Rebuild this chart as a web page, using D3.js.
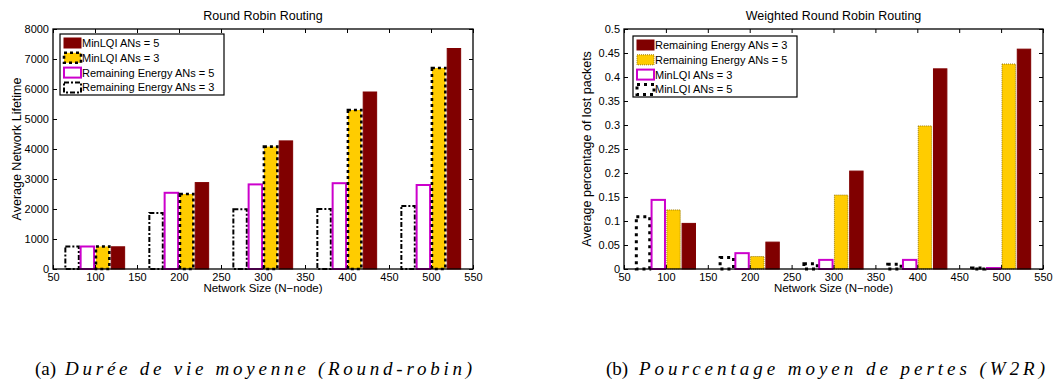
<!DOCTYPE html>
<html><head><meta charset="utf-8">
<script src="https://cdn.jsdelivr.net/npm/d3@7/dist/d3.min.js"></script>
<style>body{margin:0;background:#fff;} svg{display:block;} text{font-family:"Liberation Sans",Arial,sans-serif;}</style>
</head><body><svg id="c" width="1054" height="383"></svg>
<script>
// ---- data ----
const networkSizes = [100, 200, 300, 400, 500];
const xTicks = [50, 100, 150, 200, 250, 300, 350, 400, 450, 500, 550];

// Round Robin Routing: average network lifetime
const rrRemEnergy3 = [750, 1870, 1990, 2000, 2100];
const rrRemEnergy5 = [750, 2540, 2820, 2860, 2800];
const rrMinLQI3    = [750, 2500, 4080, 5300, 6700];
const rrMinLQI5    = [740, 2880, 4270, 5900, 7350];
const rrYTicks = [0, 1000, 2000, 3000, 4000, 5000, 6000, 7000, 8000];

// Weighted Round Robin Routing: average percentage of lost packets
const wrrMinLQI5    = [0.109, 0.024, 0.011, 0.010, 0.002];
const wrrMinLQI3    = [0.144, 0.033, 0.019, 0.019, 0.002];
const wrrRemEnergy5 = [0.123, 0.026, 0.154, 0.298, 0.427];
const wrrRemEnergy3 = [0.095, 0.056, 0.204, 0.417, 0.458];
const wrrYTicks = [0, 0.05, 0.1, 0.15, 0.2, 0.25, 0.3, 0.35, 0.4, 0.45, 0.5];

// ---- styles ----
const DARKRED = "#800000", GOLD = "#ffcc00", MAGENTA = "#cc00cc";
const styles = {
  dashdot:  {fill: "#fff", stroke: "#000", sw: 2, dash: "5,2,2,2"},
  magenta:  {fill: "#fff", stroke: MAGENTA, sw: 2, dash: null},
  golddots: {fill: GOLD, stroke: "#000", sw: 2.6, dash: "3,3"},
  goldthin: {fill: GOLD, stroke: "#9a7a00", sw: 1, dash: "1,1"},
  bigdots:  {fill: "#fff", stroke: "#000", sw: 3, dash: "3,4"},
  red:      {fill: DARKRED, stroke: DARKRED, sw: 1, dash: null}
};

const svg = d3.select("#c");

function drawChart(cfg) {
  const g = svg.append("g");
  const x = d3.scaleLinear().domain([50, 550]).range([cfg.left, cfg.right]);
  const y = d3.scaleLinear().domain(cfg.yDomain).range([cfg.bottom, cfg.top]);
  const spacing = 18.2, width = 16;

  // bars
  cfg.series.forEach((s, i) => {
    const off = (i - 1.5) * spacing;
    const st = styles[s.style];
    g.selectAll(null).data(s.values).enter().append("rect")
      .attr("x", (d, j) => x(networkSizes[j] + off - width / 2))
      .attr("width", x(50 + width) - x(50))
      .attr("y", d => y(d))
      .attr("height", d => y(0) - y(d))
      .attr("fill", st.fill)
      .attr("stroke", st.stroke)
      .attr("stroke-width", st.sw)
      .attr("stroke-dasharray", st.dash);
  });

  // axes (inward ticks, full box)
  const tl = 4;
  const ax = g.append("g").attr("transform", `translate(0,${cfg.bottom})`)
    .call(d3.axisBottom(x).tickValues(xTicks).tickSize(-tl).tickPadding(4).tickFormat(d3.format("d")));
  const axT = g.append("g").attr("transform", `translate(0,${cfg.top})`)
    .call(d3.axisTop(x).tickValues(xTicks).tickSize(-tl).tickFormat(""));
  const ay = g.append("g").attr("transform", `translate(${cfg.left},0)`)
    .call(d3.axisLeft(y).tickValues(cfg.yTicks).tickSize(-tl).tickPadding(4).tickFormat(cfg.yFmt));
  const ayR = g.append("g").attr("transform", `translate(${cfg.right},0)`)
    .call(d3.axisRight(y).tickValues(cfg.yTicks).tickSize(-tl).tickFormat(""));
  [ax, axT, ay, ayR].forEach(a => {
    a.select(".domain").remove();
    a.selectAll("line").attr("stroke", "#000");
    a.selectAll("text").attr("fill", "#000").style("font-size", "11px");
  });
  g.append("rect").attr("x", cfg.left).attr("y", cfg.top)
    .attr("width", cfg.right - cfg.left).attr("height", cfg.bottom - cfg.top)
    .attr("fill", "none").attr("stroke", "#000").attr("stroke-width", 1.3);

  // titles
  const cx = (cfg.left + cfg.right) / 2;
  g.append("text").attr("x", cx).attr("y", 20).attr("text-anchor", "middle")
    .style("font-size", "12.5px").text(cfg.title);
  g.append("text").attr("x", cx).attr("y", cfg.bottom + 23).attr("text-anchor", "middle")
    .style("font-size", "11.5px").text("Network Size (N\u2212node)");
  g.append("text").attr("transform", `translate(${cfg.ylabX},${(cfg.top + cfg.bottom) / 2}) rotate(-90)`)
    .attr("text-anchor", "middle").style("font-size", "12.5px").text(cfg.yLabel);

  // legend
  const lg = g.append("g");
  lg.append("rect").attr("x", cfg.leg.x).attr("y", cfg.leg.y).attr("width", cfg.leg.w).attr("height", cfg.leg.h)
    .attr("fill", "#fff").attr("stroke", "#000").attr("stroke-width", 1.2);
  cfg.legendOrder.forEach((idx, k) => {
    const s = cfg.series[idx], st = styles[s.style];
    const cy = cfg.leg.y + 9 + k * 14.8;
    lg.append("rect").attr("x", cfg.leg.x + 4).attr("y", cy - 5).attr("width", 17).attr("height", 10)
      .attr("fill", st.fill).attr("stroke", st.stroke).attr("stroke-width", st.sw).attr("stroke-dasharray", st.dash);
    lg.append("text").attr("x", cfg.leg.x + 22).attr("y", cy + 4).style("font-size", "11px").text(s.name);
  });
}

drawChart({
  left: 53, right: 473, top: 29, bottom: 269, ylabX: 21,
  yDomain: [0, 8000], yTicks: rrYTicks, yFmt: d3.format("d"),
  title: "Round Robin Routing", yLabel: "Average Network Lifetime",
  series: [
    {name: "Remaining Energy ANs = 3", values: rrRemEnergy3, style: "dashdot"},
    {name: "Remaining Energy ANs = 5", values: rrRemEnergy5, style: "magenta"},
    {name: "MinLQI ANs = 3", values: rrMinLQI3, style: "golddots"},
    {name: "MinLQI ANs = 5", values: rrMinLQI5, style: "red"}
  ],
  legendOrder: [3, 2, 1, 0],
  leg: {x: 60, y: 34, w: 164, h: 61}
});

drawChart({
  left: 624, right: 1043, top: 29, bottom: 269, ylabX: 591,
  yDomain: [0, 0.5], yTicks: wrrYTicks, yFmt: d => d === 0 ? "0" : String(+d.toFixed(2)),
  title: "Weighted Round Robin Routing", yLabel: "Average percentage of lost packets",
  series: [
    {name: "MinLQI ANs = 5", values: wrrMinLQI5, style: "bigdots"},
    {name: "MinLQI ANs = 3", values: wrrMinLQI3, style: "magenta"},
    {name: "Remaining Energy ANs = 5", values: wrrRemEnergy5, style: "goldthin"},
    {name: "Remaining Energy ANs = 3", values: wrrRemEnergy3, style: "red"}
  ],
  legendOrder: [3, 2, 1, 0],
  leg: {x: 633, y: 36, w: 164, h: 61}
});

// captions
function caption(x0, label, txt, x1, x2) {
  svg.append("text").attr("x", x0).attr("y", 375)
    .style("font-family", "'Liberation Serif',serif").style("font-size", "19px").text(label);
  svg.append("text").attr("x", x1).attr("y", 375)
    .style("font-family", "'Liberation Serif',serif").style("font-style", "italic").style("font-size", "19px")
    .attr("textLength", x2 - x1).attr("lengthAdjust", "spacing").text(txt);
}
caption(35, "(a)", "Durée de vie moyenne (Round-robin)", 65, 472);
caption(606, "(b)", "Pourcentage moyen de pertes (W2R)", 639, 1045);
</script></body></html>
